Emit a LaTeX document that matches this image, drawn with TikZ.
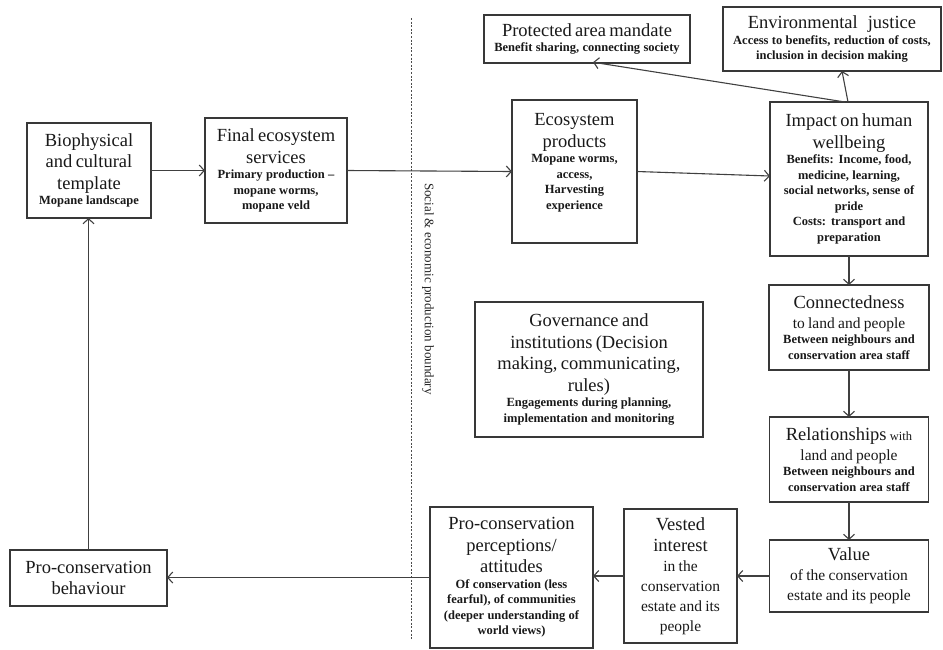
\documentclass[tikz,border=0pt]{standalone}
\usepackage{fontspec}
\setmainfont{Liberation Serif}
\usetikzlibrary{arrows.meta,calc}
\newcommand{\ttl}{\fontsize{18.5}{21.5}\selectfont}
\newcommand{\sbt}{\fontsize{12.5}{15.5}\selectfont\bfseries}
\newcommand{\mdt}{\fontsize{15.5}{20}\selectfont}
\newcommand{\smt}{\fontsize{12.5}{15}\selectfont}
\newcommand{\gapsp}{\par\vspace{3pt}}
\begin{document}
\begin{tikzpicture}[x=1pt,y=-1pt,
  box/.style={draw=black!78, line width=1.2pt, rectangle, inner sep=0pt, outer sep=0pt, align=center, text=black!90},
  arr/.style={draw=black!75, line width=1.1pt, -{Straight Barb[length=5pt,width=11pt,line width=1.1pt]}},
  ln/.style={draw=black!75, line width=1.1pt}]
\useasboundingbox[fill=white] (0,0) rectangle (943,649);

\node[box, minimum width=124pt, minimum height=95pt, text width=120pt] (bio) at (89,170.5)
  {{\ttl Biophysical\\and cultural\\template\par}{\sbt Mopane landscape\par}};
\node[box, minimum width=142pt, minimum height=105pt, text width=138pt] (fes) at (276,170.5)
  {{\ttl Final ecosystem\\services\par}{\sbt Primary production --\\mopane worms,\\mopane veld\par}};
\node[box, minimum width=125pt, minimum height=143pt, text width=121pt] (eco) at (574.5,171.5)
  {{\ttl Ecosystem\\products\par}{\sbt Mopane worms,\\access,\\Harvesting\\experience\par}\rule{0pt}{16pt}};
\node[box, minimum width=206pt, minimum height=48pt, text width=202pt] (pam) at (587,39)
  {{\ttl Protected area mandate\par}{\sbt Benefit sharing, connecting society\par}};
\node[box, minimum width=218pt, minimum height=64pt, text width=214pt] (ej) at (832,39)
  {{\ttl Environmental \ \ justice\par}{\sbt Access to benefits, reduction of costs,\\inclusion in decision making\par}};
\node[box, minimum width=158pt, minimum height=154pt, text width=154pt] (imp) at (849,179)
  {{\ttl Impact on human\\wellbeing\par}{\sbt Benefits: Income, food,\\medicine, learning,\\social networks, sense of\\pride\\Costs: transport and\\preparation\par}};
\node[box, minimum width=160pt, minimum height=85pt, text width=156pt] (con) at (849,327.5)
  {{\ttl Connectedness\par}{\mdt to land and people\par}{\sbt Between neighbours and\\conservation area staff\par}};
\node[box, minimum width=228pt, minimum height=135pt, text width=224pt] (gov) at (589,369.5)
  {{\ttl Governance and\\institutions (Decision\\making, communicating,\\rules)\par}{\sbt Engagements during planning,\\implementation and monitoring\par}};
\node[box, minimum width=159pt, minimum height=85pt, text width=155pt] (rel) at (849,459.5)
  {{\ttl Relationships {\smt with}\par}{\mdt land and people\par}{\sbt Between neighbours and\\conservation area staff\par}};
\node[box, minimum width=159pt, minimum height=72pt, text width=155pt] (val) at (849,576)
  {{\ttl Value\par}{\mdt of the conservation\\estate and its people\par}};
\node[box, minimum width=113pt, minimum height=134pt, text width=109pt] (ves) at (680.5,576)
  {{\ttl Vested\\interest\par}{\mdt in the\\conservation\\estate and its\\people\par}};
\node[box, minimum width=163pt, minimum height=141pt, text width=159pt] (per) at (511.5,577.5)
  {{\ttl Pro-conservation\\perceptions/\\attitudes\par}{\sbt Of conservation (less\\fearful), of communities\\(deeper understanding of\\world views)\par}};
\node[box, minimum width=157pt, minimum height=56pt, text width=153pt] (beh) at (88.5,578)
  {{\ttl Pro-conservation\\behaviour\par}};

\coordinate (bt) at (411,18);
\coordinate (bb) at (411,640);
\draw[draw=black!70, line width=1pt, dash pattern=on 2pt off 1.6pt] (bt) -- (bb);
\node[rotate=-90, text=black!85, inner sep=0pt] (blabel) at (428,289)
  {\fontsize{13}{15}\selectfont Social \& economic production boundary};

\draw[arr] (bio.east) -- (fes.west |- bio.east);
\draw[arr] (fes.east) -- (eco.west);
\draw[arr] (eco.east) -- ([yshift=3pt]imp.west);
\draw[arr, shorten >=-5pt] ([xshift=-4pt]imp.north) -- ([xshift=11pt]pam.south);
\draw[arr] ([xshift=-1pt]imp.north) -- ([xshift=10pt]ej.south);
\draw[arr] (imp.south) -- (con.north);
\draw[arr] (con.south) -- (rel.north);
\draw[arr] (rel.south) -- (val.north);
\draw[arr] (val.west) -- (ves.east |- val.west);
\draw[arr] (ves.west) -- (per.east |- ves.west);
\draw[arr] (per.west) -- (beh.east |- per.west);
\draw[arr] (beh.north) -- (beh.north |- bio.south);
\end{tikzpicture}
\end{document}
